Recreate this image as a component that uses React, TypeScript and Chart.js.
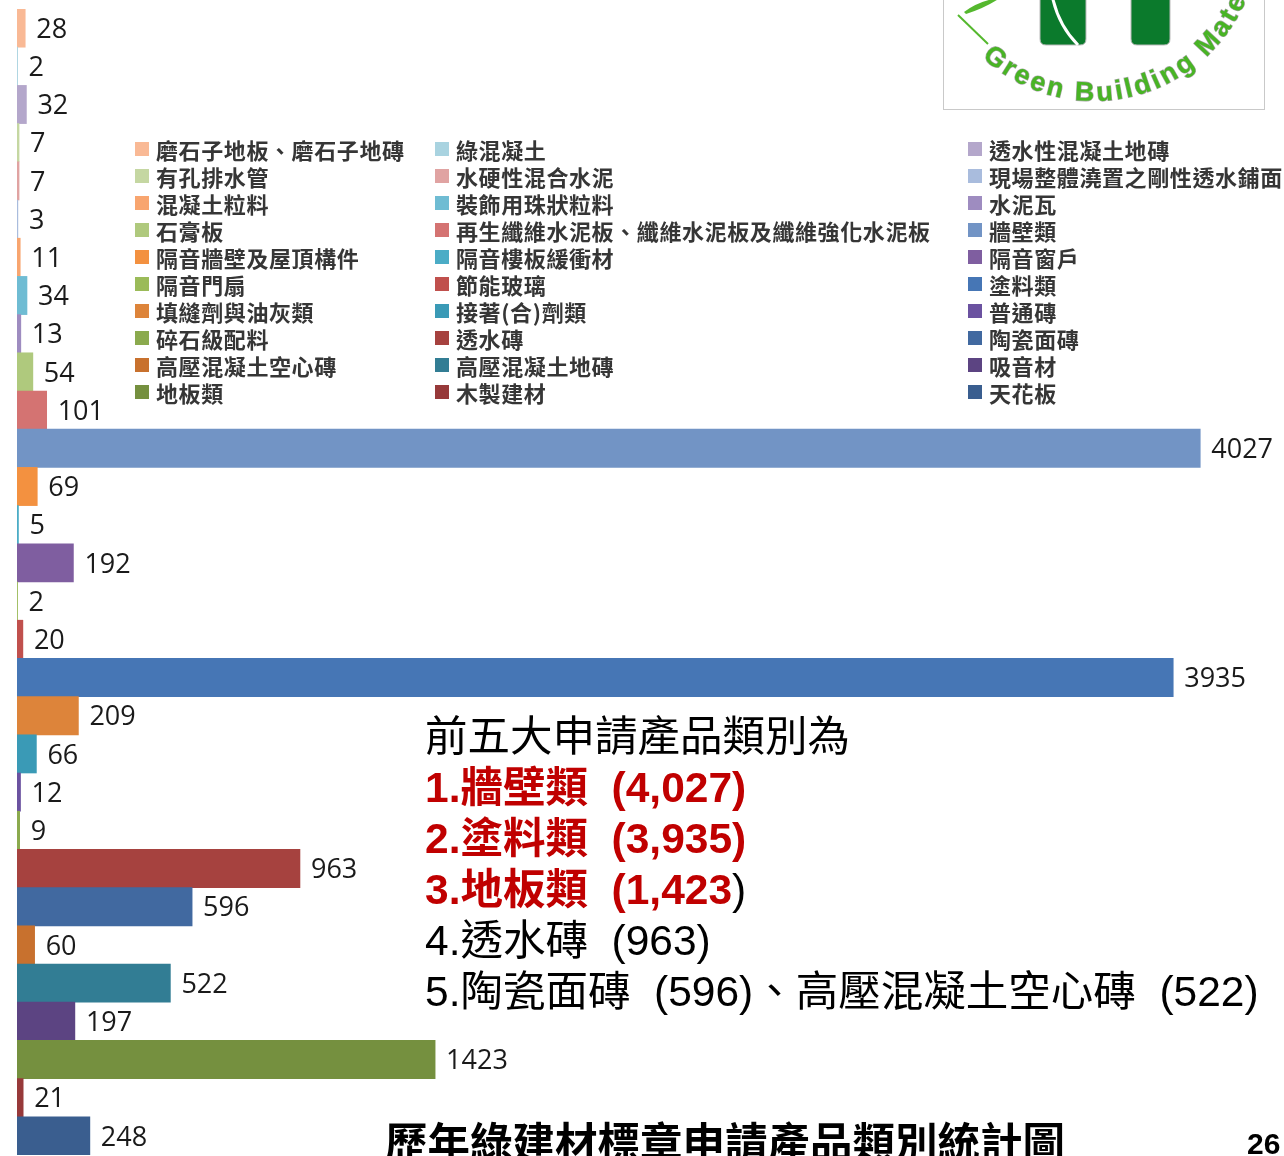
import React, { useEffect, useRef } from "react";
import { Chart, registerables } from "chart.js";

Chart.register(...registerables);

// ---- data (dataset order = top-to-bottom bar order = legend order, row-wise) ----
const categories = [
  "磨石子地板、磨石子地磚",
  "綠混凝土",
  "透水性混凝土地磚",
  "有孔排水管",
  "水硬性混合水泥",
  "現場整體澆置之剛性透水鋪面",
  "混凝土粒料",
  "裝飾用珠狀粒料",
  "水泥瓦",
  "石膏板",
  "再生纖維水泥板、纖維水泥板及纖維強化水泥板",
  "牆壁類",
  "隔音牆壁及屋頂構件",
  "隔音樓板緩衝材",
  "隔音窗戶",
  "隔音門扇",
  "節能玻璃",
  "塗料類",
  "填縫劑與油灰類",
  "接著(合)劑類",
  "普通磚",
  "碎石級配料",
  "透水磚",
  "陶瓷面磚",
  "高壓混凝土空心磚",
  "高壓混凝土地磚",
  "吸音材",
  "地板類",
  "木製建材",
  "天花板",
];

const values = [
  28, 2, 32, 7, 7, 3, 11, 34, 13, 54, 101, 4027, 69, 5, 192, 2, 20, 3935, 209,
  66, 12, 9, 963, 596, 60, 522, 197, 1423, 21, 248,
];

const barColors = [
  "#F9B995", "#A9D3E0", "#B4A7CB", "#C5D7A2", "#E0A3A2", "#A9BCDD",
  "#F8A56F", "#6FBCD3", "#9E8CC0", "#AFC97D", "#D47372", "#7294C5",
  "#F39140", "#4BACC6", "#7F5EA0", "#9BBB59", "#C0504D", "#4676B5",
  "#DD843A", "#3A9AB6", "#6B52A0", "#8BAA4E", "#A6423F", "#4169A0",
  "#C8712E", "#327D94", "#5C4482", "#75903F", "#97393A", "#3A5E8F",
];

const xMax = 4312;

const headline = "前五大申請產品類別為";
const titleText = "歷年綠建材標章申請產品類別統計圖";
const pageNumber = "26";
const logoText = "Green  Building  Material";

const legendColumnsX = [135, 435, 968];
const legendTop = 149;
const legendStep = 27;

const valueLabelPlugin = {
  id: "valueLabels",
  afterDatasetsDraw(chart: any) {
    const { ctx } = chart;
    const meta = chart.getDatasetMeta(0);
    const data = chart.data.datasets[0].data as number[];
    ctx.save();
    ctx.font = "27px 'Open Sans', 'DejaVu Sans', sans-serif";
    ctx.fillStyle = "#1a1a1a";
    ctx.textBaseline = "middle";
    ctx.textAlign = "left";
    meta.data.forEach((bar: any, i: number) => {
      ctx.fillText(String(data[i]), bar.x + 11, bar.y + 2);
    });
    ctx.restore();
  },
};

const CJK = "'Noto Sans CJK TC', 'Noto Sans CJK SC', sans-serif";
const MIX = "'Liberation Sans', Arial, 'Noto Sans CJK TC', sans-serif";

export default function App() {
  const canvasRef = useRef<HTMLCanvasElement | null>(null);

  useEffect(() => {
    const canvas = canvasRef.current;
    if (!canvas) return;
    const chart = new Chart(canvas, {
      type: "bar",
      data: {
        labels: categories,
        datasets: [
          {
            data: values,
            backgroundColor: barColors,
            borderWidth: 0,
            barPercentage: 1,
            categoryPercentage: 1,
          },
        ],
      },
      options: {
        indexAxis: "y",
        responsive: false,
        maintainAspectRatio: false,
        devicePixelRatio: 1,
        animation: false,
        layout: { padding: { left: 17, top: 9, bottom: 1, right: 0 } },
        scales: {
          x: { display: false, min: 0, max: xMax },
          y: { display: false },
        },
        plugins: {
          legend: { display: false },
          tooltip: { enabled: false },
        },
      },
      plugins: [valueLabelPlugin],
    });
    return () => chart.destroy();
  }, []);

  const cx = 1094;
  const cy = -64;
  const r = 165;
  const arcPath = `M ${cx - r} ${cy} A ${r} ${r} 0 0 0 ${cx + r} ${cy}`;

  return (
    <div
      style={{
        position: "fixed",
        left: 0,
        top: 0,
        width: 1284,
        height: 1156,
        overflow: "hidden",
        background: "#ffffff",
      }}
    >
      <canvas
        ref={canvasRef}
        width={1284}
        height={1156}
        style={{ position: "absolute", left: 0, top: 0 }}
      />

      {/* logo */}
      <svg
        width={1284}
        height={120}
        style={{ position: "absolute", left: 0, top: 0 }}
      >
        <rect x={943.5} y={-5} width={321} height={114.5} fill="#ffffff" stroke="#c9c9c9" strokeWidth={1} />
        <path d="M 1040 -5 L 1086 -5 L 1086 39 Q 1086 45 1080 45 L 1046 45 Q 1040 45 1040 39 Z" fill="#0B7A2C" stroke="#bbbbbb" strokeWidth={1} />
        <path d="M 1052 -5 Q 1058 25 1078 45" fill="none" stroke="#ffffff" strokeWidth={3} />
        <path d="M 1131 -5 L 1170 -5 L 1170 39 Q 1170 45 1164 45 L 1137 45 Q 1131 45 1131 39 Z" fill="#0B7A2C" stroke="#bbbbbb" strokeWidth={1} />
        <line x1={958} y1={15} x2={988} y2={44} stroke="#55B82E" strokeWidth={2} />
        <path d="M 964 12 Q 980 0 1000 -2 Q 985 8 966 14 Z" fill="#55B82E" />
        <path id="logoArc" d={arcPath} fill="none" />
        <text
          fontFamily="'Liberation Sans', Arial, sans-serif"
          fontWeight="bold"
          fontSize={27}
          letterSpacing={3}
          fill="#48B424"
          stroke="#a8a8a8"
          strokeWidth={1.2}
          style={{ paintOrder: "stroke" }}
        >
          <textPath href="#logoArc" startOffset={136}>
            {logoText}
          </textPath>
        </text>
      </svg>

      {/* legend */}
      {categories.map((name, i) => {
        const col = i % 3;
        const row = Math.floor(i / 3);
        const top = legendTop + legendStep * row - 13;
        return (
          <div
            key={name}
            style={{
              position: "absolute",
              left: legendColumnsX[col],
              top,
              height: 26,
              display: "flex",
              alignItems: "center",
              whiteSpace: "nowrap",
            }}
          >
            <span
              style={{
                display: "inline-block",
                width: 14,
                height: 14,
                background: barColors[i],
                marginRight: 7,
              }}
            />
            <span
              style={{
                fontFamily: CJK,
                fontSize: 22,
                fontWeight: 700,
                color: "#363636",
                lineHeight: "26px",
                letterSpacing: "0.6px",
              }}
            >
              {name}
            </span>
          </div>
        );
      })}

      {/* annotation */}
      <div
        style={{
          position: "absolute",
          left: 425,
          top: 711,
          fontFamily: MIX,
          fontSize: 42.5,
          lineHeight: "51px",
          color: "#000000",
          whiteSpace: "pre",
        }}
      >
        <div>{headline}</div>
        <div style={{ color: "#C00000", fontWeight: 700 }}>{`1.${categories[11]}  (4,027)`}</div>
        <div style={{ color: "#C00000", fontWeight: 700 }}>{`2.${categories[17]}  (3,935)`}</div>
        <div>
          <span style={{ color: "#C00000", fontWeight: 700 }}>{`3.${categories[27]}  (1,423`}</span>
          <span>)</span>
        </div>
        <div>{`4.${categories[22]}  (963)`}</div>
        <div>{`5.${categories[23]}  (596)、${categories[24]}  (522)`}</div>
      </div>

      {/* title */}
      <div
        style={{
          position: "absolute",
          left: 385,
          top: 1119,
          fontFamily: CJK,
          fontWeight: 700,
          fontSize: 42.5,
          lineHeight: "42px",
          color: "#000000",
          whiteSpace: "nowrap",
        }}
      >
        {titleText}
      </div>
      <div
        style={{
          position: "absolute",
          left: 1247,
          top: 1129,
          fontFamily: "'Liberation Sans', Arial, sans-serif",
          fontWeight: 700,
          fontSize: 30,
          lineHeight: "30px",
          color: "#000000",
        }}
      >
        {pageNumber}
      </div>
    </div>
  );
}
